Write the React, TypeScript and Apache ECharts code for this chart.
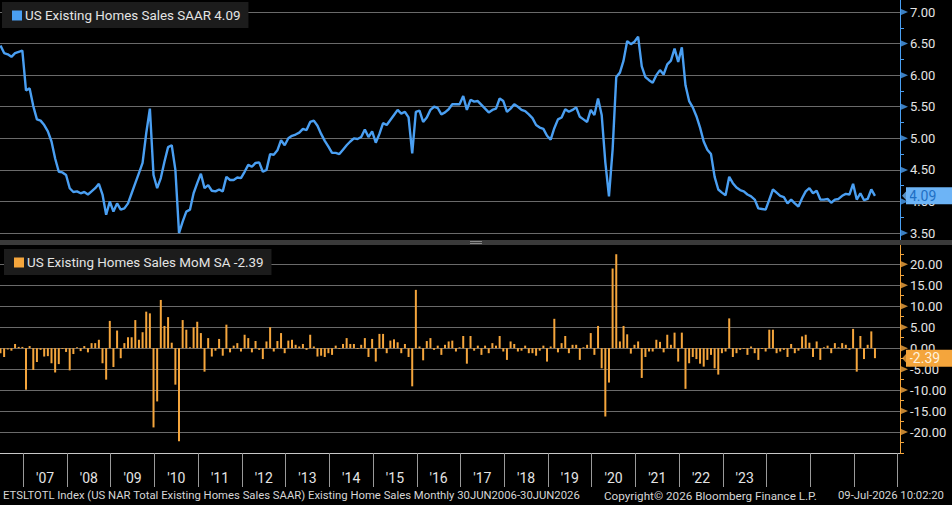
import { useEffect, useRef } from "react";
import * as echarts from "echarts";

// Monthly observations start in June 2006
const START_YEAR = 2006;
const START_MONTH = 6;

// US existing home sales, SAAR (millions)
const SALES_SAAR = [
  6.47, 6.35, 6.33, 6.29, 6.35, 6.37, 6.39, 5.76, 5.79, 5.51,
  5.30, 5.28, 5.21, 5.11, 4.95, 4.68, 4.47, 4.46, 4.42, 4.21,
  4.15, 4.16, 4.13, 4.15, 4.11, 4.16, 4.21, 4.28, 4.11, 3.79,
  4.00, 3.84, 3.97, 3.87, 3.89, 3.97, 4.13, 4.29, 4.45, 4.61,
  5.08, 5.47, 4.42, 4.21, 4.37, 4.63, 4.86, 4.89, 4.50, 3.50,
  3.68, 3.84, 3.87, 4.13, 4.29, 4.44, 4.21, 4.26, 4.17, 4.16,
  4.19, 4.16, 4.39, 4.34, 4.34, 4.38, 4.37, 4.47, 4.58, 4.55,
  4.61, 4.62, 4.47, 4.50, 4.75, 4.74, 4.81, 4.97, 4.89, 5.00,
  5.04, 5.06, 5.09, 5.15, 5.13, 5.26, 5.28, 5.20, 5.07, 4.96,
  4.87, 4.77, 4.77, 4.75, 4.82, 4.89, 4.95, 5.00, 4.99, 5.02,
  5.14, 5.02, 5.11, 4.93, 5.07, 5.24, 5.21, 5.29, 5.37, 5.45,
  5.39, 5.42, 5.33, 4.76, 5.42, 5.44, 5.26, 5.33, 5.45, 5.50,
  5.48, 5.38, 5.41, 5.46, 5.54, 5.54, 5.54, 5.67, 5.45, 5.61,
  5.58, 5.59, 5.53, 5.47, 5.41, 5.45, 5.47, 5.63, 5.59, 5.42,
  5.47, 5.54, 5.50, 5.45, 5.43, 5.38, 5.32, 5.21, 5.17, 5.15,
  5.04, 4.98, 5.16, 5.30, 5.33, 5.46, 5.42, 5.45, 5.49, 5.34,
  5.30, 5.26, 5.45, 5.37, 5.63, 5.37, 4.62, 4.08, 4.82, 5.97,
  6.04, 6.23, 6.54, 6.49, 6.53, 6.61, 6.14, 5.97, 5.92, 5.88,
  6.00, 6.08, 6.01, 6.17, 6.23, 6.42, 6.21, 6.44, 5.84, 5.59,
  5.49, 5.35, 5.17, 4.95, 4.82, 4.75, 4.39, 4.19, 4.14, 4.10,
  4.39, 4.29, 4.22, 4.18, 4.16, 4.11, 4.08, 4.03, 3.89, 3.88,
  3.87, 4.03, 4.19, 4.14, 4.09, 4.07, 3.97, 4.03, 3.97, 3.92,
  4.05, 4.16, 4.21, 4.13, 4.17, 4.03, 4.03, 4.04, 3.98, 4.03,
  4.04, 4.09, 4.12, 4.11, 4.28, 4.03, 4.13, 4.02, 4.04, 4.19, 4.09,
];

// Month-over-month change, seasonally adjusted (%)
const SALES_MOM = [
  -1.2, -2.1, -0.3, -0.6, 1.0, 0.3, 0.3, -9.9, 0.5, -5.2,
  -3.3, -0.4, -2.0, -1.9, -3.6, -5.8, -3.8, -0.2, -0.9, -5.3,
  -1.4, 0.2, -0.7, 0.5, -1.0, 1.2, 1.2, 2.0, -3.6, -7.5,
  6.5, -4.5, 4.2, -2.4, 1.2, 2.6, 2.6, 6.7, 2.0, 3.8,
  8.7, 8.3, -18.9, -12.7, 11.5, 5.3, 7.4, 1.3, -8.7, -22.2,
  6.7, 4.4, 0.2, 5.0, 6.3, 3.6, -5.6, 2.4, -2.0, -0.6,
  2.2, -1.8, 5.6, -1.0, 0.6, 1.2, -0.8, 3.2, 2.4, -1.0,
  1.7, -0.4, -2.6, 1.6, 5.0, -0.8, 1.7, 3.6, -1.2, 1.8,
  2.0, 0.8, 0.4, 1.0, -0.4, 3.2, 0.4, -2.0, -1.8, -2.1,
  -1.2, -1.6, 0.6, -0.2, 1.0, 2.4, 1.0, 1.0, -0.2, 0.8,
  2.4, -2.1, 2.2, -3.2, 3.4, 3.4, -1.2, 1.8, 2.1, 1.4,
  -1.2, 1.0, -2.1, -9.1, 13.9, 0.4, -2.9, 1.7, 2.4, -0.4,
  0.6, -1.6, 0.8, 1.6, 1.8, -0.8, 0.2, 2.9, -3.7, 2.9,
  -0.6, 0.6, -1.6, 0.6, -1.2, 1.2, 0.6, 2.9, -0.8, -2.8,
  1.6, 1.0, -0.8, -0.6, 0.6, -1.2, -1.2, -1.8, -0.6, 0.6,
  -3.2, 0.4, 7.0, -1.0, 1.2, 2.9, -1.2, 0.8, 0.8, -2.8,
  0.2, 0.8, 3.6, -1.6, 5.3, -4.8, -16.3, -8.2, 19.0, 22.4,
  1.6, 5.3, 3.3, -1.3, 0.8, 1.6, -7.1, -2.1, -0.8, -0.8,
  2.0, 1.5, -1.0, 3.2, 0.8, 3.7, -3.2, 3.7, -9.7, -3.6,
  -2.1, -2.6, -3.7, -4.4, -2.8, -1.6, -4.8, -6.3, -1.2, -0.8,
  7.1, -2.1, -1.2, -0.4, -0.2, -1.6, 0.4, -1.2, -2.8, -0.2,
  -0.8, 4.4, 4.4, -1.2, -0.8, -0.4, -2.1, 1.0, -1.2, -0.6,
  2.8, 3.2, 1.3, -2.1, 1.6, -2.8, 0.2, 0.6, -1.2, 1.2,
  0.2, 1.2, 0.8, -0.4, 4.6, -5.6, 2.9, -2.6, 0.8, 4.0, -2.39,
];

const YEAR_TICKS = [
  2007, 2008, 2009, 2010, 2011, 2012, 2013, 2014, 2015, 2016, 2017,
  2018, 2019, 2020, 2021, 2022, 2023, 2024, 2025, 2026, 2027,
];
const LABEL_YEARS = [
  2007, 2008, 2009, 2010, 2011, 2012, 2013, 2014, 2015, 2016, 2017,
  2018, 2019, 2020, 2021, 2022, 2023,
];
const SAAR_TICKS = [3.5, 4.0, 4.5, 5.0, 5.5, 6.0, 6.5, 7.0];
const SAAR_MINOR = [3.75, 4.25, 4.75, 5.25, 5.75, 6.25, 6.75];
const MOM_TICKS = [-20, -15, -10, -5, 0, 5, 10, 15, 20];
const MOM_MINOR = [-25, -22.5, -17.5, -12.5, -7.5, -2.5, 2.5, 7.5, 12.5, 17.5, 22.5];

const SAAR_NAME = "US Existing Homes Sales SAAR";
const MOM_NAME = "US Existing Homes Sales MoM SA";

const BLUE = "#4a9ff2";
const BLUE_TAG = "#6db4f6";
const ORANGE = "#f4a53c";
const GRID_GRAY = "#6a6a6a";
const TEXT = "#e4e4e4";
const FONT = "Roboto, 'Liberation Sans', sans-serif";

const X_MIN = 2006.468;
const X_MAX = 2027.052;

// position of month i on the shared year axis
const monthPos = (i: number) => START_YEAR + (START_MONTH - 1 + i + 0.75) / 12;

export default function App() {
  const ref = useRef<HTMLDivElement>(null);

  useEffect(() => {
    if (!ref.current) return;
    const chart = echarts.init(ref.current, undefined, { renderer: "svg" });

    const lastSaar = SALES_SAAR[SALES_SAAR.length - 1];
    const lastMom = SALES_MOM[SALES_MOM.length - 1];

    const hiddenX = {
      type: "value" as const,
      min: X_MIN,
      max: X_MAX,
      axisLine: { show: false },
      axisTick: { show: false },
      axisLabel: { show: false },
      splitLine: { show: false },
    };

    // small right-pointing markers on the value axis at each labelled tick
    const tickMarks = (values: number[], yAxisIndex: number, xAxisIndex: number, color: string) => ({
      type: "scatter" as const,
      xAxisIndex,
      yAxisIndex,
      data: values.map((v) => [X_MAX, v]),
      symbol: "triangle",
      symbolSize: [7, 8],
      symbolRotate: -90,
      symbolOffset: [4, 0],
      clip: false,
      silent: true,
      itemStyle: { color },
      z: 5,
    });

    // last-value tag drawn at the right end of the plot
    const lastTag = (value: number, bg: string, fg: string) => ({
      silent: true,
      symbol: "none",
      lineStyle: { color: "rgba(0,0,0,0)", width: 0 },
      data: [{ yAxis: value }],
      label: {
        show: true,
        position: "end",
        distance: 6,
        formatter: value.toFixed(2),
        backgroundColor: bg,
        color: fg,
        fontSize: 14,
        fontFamily: FONT,
        padding: [2, 20, 1, 3],
      },
    });

    const tagArrow = (value: number, xAxisIndex: number, yAxisIndex: number, color: string) => ({
      type: "scatter" as const,
      xAxisIndex,
      yAxisIndex,
      data: [[X_MAX, value]],
      symbol: "triangle",
      symbolSize: [17, 8],
      symbolRotate: 90,
      symbolOffset: [6, 0],
      clip: false,
      silent: true,
      itemStyle: { color },
      z: 6,
    });

    const legendBox = (name: string, value: number, left: number, top: number) => ({
      data: [name],
      left,
      top,
      padding: [7, 8, 6, 10],
      backgroundColor: "#1c1c1c",
      icon: "rect",
      itemWidth: 10,
      itemHeight: 10,
      selectedMode: false,
      formatter: (n: string) => `${n} ${value.toFixed(2)}`,
      textStyle: { color: TEXT, fontSize: 13.4, fontFamily: FONT, padding: [0, 0, 0, -2] },
    });

    chart.setOption({
      animation: false,
      backgroundColor: "#000000",
      textStyle: { fontFamily: FONT },
      grid: [
        { left: 0, top: 0, width: 900, height: 240 },
        { left: 0, top: 245, width: 900, height: 208 },
      ],
      legend: [
        legendBox(SAAR_NAME, lastSaar, 2, 2),
        legendBox(MOM_NAME, lastMom, 4, 249),
      ],
      xAxis: [
        { ...hiddenX, gridIndex: 0 },
        {
          ...hiddenX,
          gridIndex: 1,
          axisLine: { show: true, onZero: false, lineStyle: { color: "#c8c8c8", width: 1 } },
          axisTick: {
            show: true,
            customValues: YEAR_TICKS,
            length: 34,
            lineStyle: { color: "#9a9a9a", width: 1 },
          },
          axisLabel: {
            show: true,
            customValues: LABEL_YEARS.map((y) => y + 0.5),
            formatter: (v: number) => "'" + String(Math.floor(v)).slice(2),
            color: TEXT,
            fontSize: 14,
            fontFamily: FONT,
            margin: 18,
          },
        },
      ],
      yAxis: [
        {
          type: "value",
          gridIndex: 0,
          position: "right",
          min: 3.39,
          max: 7.19,
          axisLine: { show: true, lineStyle: { color: BLUE, width: 1 } },
          axisTick: { show: true, customValues: SAAR_TICKS, length: 0 },
          axisLabel: {
            customValues: SAAR_TICKS,
            formatter: (v: number) => v.toFixed(2),
            color: TEXT,
            fontSize: 13,
            fontFamily: FONT,
            margin: 10,
          },
          splitLine: { show: true, lineStyle: { color: GRID_GRAY, width: 1 } },
        },
        {
          type: "value",
          gridIndex: 0,
          position: "right",
          min: 3.39,
          max: 7.19,
          axisLine: { show: false },
          axisTick: { show: true, customValues: SAAR_MINOR, length: 4, lineStyle: { color: BLUE } },
          axisLabel: { show: false },
          splitLine: { show: false },
        },
        {
          type: "value",
          gridIndex: 1,
          position: "right",
          min: -25,
          max: 24.6,
          axisLine: { show: true, lineStyle: { color: ORANGE, width: 1 } },
          axisTick: { show: true, customValues: MOM_TICKS, length: 0 },
          axisLabel: {
            customValues: MOM_TICKS,
            formatter: (v: number) => v.toFixed(2),
            color: TEXT,
            fontSize: 13,
            fontFamily: FONT,
            margin: 10,
          },
          splitLine: { show: true, lineStyle: { color: GRID_GRAY, width: 1 } },
        },
        {
          type: "value",
          gridIndex: 1,
          position: "right",
          min: -25,
          max: 24.6,
          axisLine: { show: false },
          axisTick: { show: true, customValues: MOM_MINOR, length: 4, lineStyle: { color: ORANGE } },
          axisLabel: { show: false },
          splitLine: { show: false },
        },
      ],
      series: [
        {
          name: SAAR_NAME,
          type: "line",
          xAxisIndex: 0,
          yAxisIndex: 0,
          data: SALES_SAAR.map((v, i) => [monthPos(i), v]),
          showSymbol: false,
          lineStyle: { color: BLUE, width: 2.4 },
          itemStyle: { color: BLUE },
          z: 4,
          markLine: lastTag(lastSaar, BLUE_TAG, "#1f6fc4"),
        },
        {
          name: MOM_NAME,
          type: "bar",
          xAxisIndex: 1,
          yAxisIndex: 2,
          data: SALES_MOM.map((v, i) => [monthPos(i), v]),
          barWidth: 2,
          itemStyle: { color: ORANGE },
          z: 4,
          markLine: lastTag(lastMom, ORANGE, "#fff1dc"),
        },
        tickMarks(SAAR_TICKS, 0, 0, BLUE),
        tickMarks(MOM_TICKS, 2, 1, ORANGE),
        tagArrow(lastSaar, 0, 0, BLUE_TAG),
        tagArrow(lastMom, 1, 2, ORANGE),
      ],
      graphic: [
        { type: "rect", left: 0, top: 240, shape: { width: 952, height: 5 }, style: { fill: "#3a3a3a" }, z: 10 },
        { type: "line", shape: { x1: 470, y1: 241.5, x2: 482, y2: 241.5 }, style: { stroke: "#8a8a8a", lineWidth: 1 }, z: 11 },
        { type: "line", shape: { x1: 470, y1: 243.5, x2: 482, y2: 243.5 }, style: { stroke: "#8a8a8a", lineWidth: 1 }, z: 11 },
        {
          type: "text",
          left: 3,
          top: 490,
          style: {
            text: "ETSLTOTL Index (US NAR Total Existing Homes Sales SAAR) Existing Home Sales Monthly 30JUN2006-30JUN2026",
            fill: "#d6d6d6",
            font: `11.3px ${FONT}`,
          },
        },
        {
          type: "text",
          left: 604,
          top: 490,
          style: { text: "Copyright\u00a9 2026 Bloomberg Finance L.P.", fill: "#d6d6d6", font: `11.7px ${FONT}` },
        },
        {
          type: "text",
          left: 838,
          top: 490,
          style: { text: "09-Jul-2026 10:02:20", fill: "#d6d6d6", font: `11.3px ${FONT}` },
        },
      ],
    } as any);

    return () => chart.dispose();
  }, []);

  return <div ref={ref} style={{ width: 952, height: 505, position: "absolute", left: 0, top: 0 }} />;
}
